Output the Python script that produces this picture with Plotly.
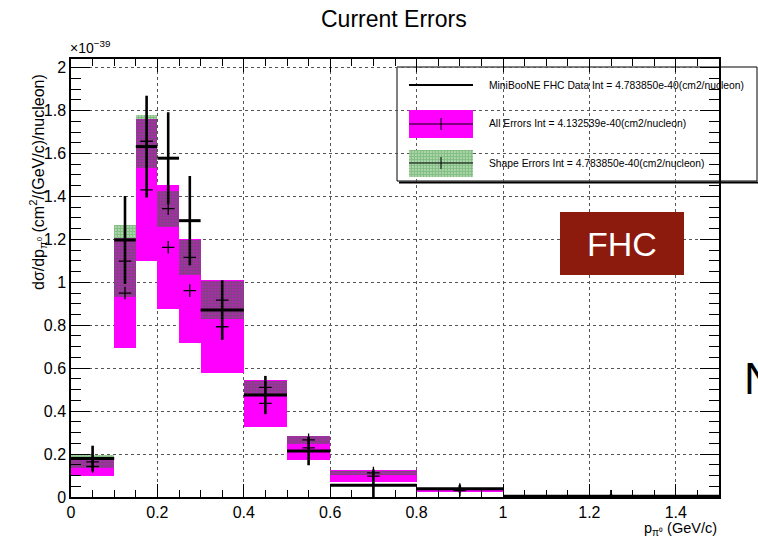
import plotly.graph_objects as go

# ---------------- data (units of 1e-39 cm2/(GeV/c)/nucleon) ----------------
bin_lo = [0.0, 0.10, 0.15, 0.20, 0.25, 0.30, 0.40, 0.50, 0.60, 0.80, 1.00]
bin_hi = [0.10, 0.15, 0.20, 0.25, 0.30, 0.40, 0.50, 0.60, 0.80, 1.00, 1.50]
data_val = [0.179, 1.197, 1.632, 1.578, 1.287, 0.871, 0.475, 0.214, 0.055, 0.038, 0.003]
data_err = [0.060, 0.205, 0.237, 0.214, 0.208, 0.139, 0.089, 0.066, 0.073, 0.017, 0.010]
shape_val = [0.164, 1.099, 1.657, 1.343, 1.116, 0.917, 0.511, 0.266, 0.112, 0.035, 0.003]
shape_err = [0.031, 0.168, 0.123, 0.084, 0.082, 0.090, 0.029, 0.020, 0.010, 0.003, 0.001]
all_val = [0.142, 0.950, 1.430, 1.163, 0.961, 0.793, 0.436, 0.229, 0.097, 0.030, 0.003]
all_err = [0.044, 0.256, 0.331, 0.289, 0.242, 0.217, 0.110, 0.057, 0.027, 0.006, 0.001]

legend_labels = [
    "MiniBooNE FHC Data Int = 4.783850e-40(cm2/nucleon)",
    "All Errors Int = 4.132539e-40(cm2/nucleon)",
    "Shape Errors Int = 4.783850e-40(cm2/nucleon)",
]
x_ticks = [0, 0.2, 0.4, 0.6, 0.8, 1.0, 1.2, 1.4]
x_ticktext = ["0", "0.2", "0.4", "0.6", "0.8", "1", "1.2", "1.4"]
y_ticks = [0, 0.2, 0.4, 0.6, 0.8, 1.0, 1.2, 1.4, 1.6, 1.8, 2.0]
y_ticktext = ["0", "0.2", "0.4", "0.6", "0.8", "1", "1.2", "1.4", "1.6", "1.8", "2"]

# ---------------- derived ----------------
centers = [(a + b) / 2 for a, b in zip(bin_lo, bin_hi)]
widths = [b - a for a, b in zip(bin_lo, bin_hi)]
half_w = [w / 2 for w in widths]

W, H = 758, 537
L, R, T, B = 71, 719, 59, 497
FONT = "Liberation Sans, Arial, Helvetica, sans-serif"
MAGENTA = "#ff00ff"
GREEN = "#0a800a"


def px(xp):
    return (xp - L) / (R - L)


def py(yp):
    return (B - yp) / (B - T)


fig = go.Figure()

# All errors band (magenta)
fig.add_trace(go.Bar(
    x=centers, width=widths,
    base=[v - e for v, e in zip(all_val, all_err)],
    y=[2 * e for e in all_err],
    marker=dict(color=MAGENTA, line=dict(width=0)),
    hoverinfo="skip", showlegend=False,
))
# Shape errors band (green hatch)
fig.add_trace(go.Bar(
    x=centers, width=widths,
    base=[v - e for v, e in zip(shape_val, shape_err)],
    y=[2 * e for e in shape_err],
    marker=dict(color="rgba(0,0,0,0)", line=dict(width=0),
                pattern=dict(shape=".", fgcolor=GREEN, bgcolor="rgba(0,0,0,0)",
                             size=3, solidity=0.8, fillmode="overlay")),
    hoverinfo="skip", showlegend=False,
))
# central value crosses
fig.add_trace(go.Scatter(
    x=centers + centers, y=shape_val + all_val, mode="markers",
    marker=dict(symbol="cross-thin", size=9, line=dict(width=1.3, color="black")),
    hoverinfo="skip", showlegend=False,
))
# data
fig.add_trace(go.Scatter(
    x=centers, y=data_val, mode="markers",
    marker=dict(size=0.1, color="black"),
    error_x=dict(type="data", array=half_w, thickness=3, width=0, color="black"),
    error_y=dict(type="data", array=data_err, thickness=2.6, width=0, color="black"),
    hoverinfo="skip", showlegend=False,
))

# legend green swatch on a pixel-coordinate overlay axis
sx0, sx1, sy0, sy1 = 409, 473, 150, 177
fig.add_trace(go.Scatter(
    x=[sx0, sx1, sx1, sx0, sx0], y=[sy0, sy0, sy1, sy1, sy0],
    xaxis="x2", yaxis="y2", mode="lines", fill="toself",
    line=dict(width=0), fillcolor="rgba(0,0,0,0)",
    fillpattern=dict(shape=".", fgcolor=GREEN, bgcolor="white", size=3, solidity=0.8),
    hoverinfo="skip", showlegend=False,
))

shapes = []
# legend box
shapes.append(dict(type="rect", xref="paper", yref="paper",
                   x0=px(397), x1=px(757), y0=py(181), y1=py(67),
                   fillcolor="white", line=dict(color="black", width=1), layer="between"))
shapes.append(dict(type="line", xref="paper", yref="paper",
                   x0=px(399), x1=px(758), y0=py(182.5), y1=py(182.5),
                   line=dict(color="black", width=2)))
# legend entry 1: black line
shapes.append(dict(type="line", xref="paper", yref="paper",
                   x0=px(409), x1=px(473), y0=py(85), y1=py(85),
                   line=dict(color="black", width=2)))
# legend entry 2: magenta box + line + tick
shapes.append(dict(type="rect", xref="paper", yref="paper",
                   x0=px(409), x1=px(473), y0=py(138), y1=py(110),
                   fillcolor=MAGENTA, line=dict(width=0)))
for yc in (124, 163):
    shapes.append(dict(type="line", xref="paper", yref="paper",
                       x0=px(409), x1=px(473), y0=py(yc), y1=py(yc),
                       line=dict(color="black", width=1)))
    shapes.append(dict(type="line", xref="paper", yref="paper",
                       x0=px(441), x1=px(441), y0=py(yc - 6), y1=py(yc + 6),
                       line=dict(color="black", width=1)))
# FHC box
shapes.append(dict(type="rect", xref="paper", yref="paper",
                   x0=px(560), x1=px(684), y0=py(275), y1=py(212),
                   fillcolor="#8c1a0d", line=dict(width=0)))

annotations = []
for lab, yc in zip(legend_labels, (85, 124, 163)):
    annotations.append(dict(text=lab, xref="paper", yref="paper", x=px(487), y=py(yc),
                            xanchor="left", yanchor="middle", showarrow=False,
                            font=dict(family=FONT, size=10.3, color="black")))
annotations += [
    dict(text="FHC", xref="paper", yref="paper", x=px(622), y=py(244),
         xanchor="center", yanchor="middle", showarrow=False,
         font=dict(family=FONT, size=34, color="white")),
    dict(text="N", xref="paper", yref="paper", x=px(742), y=py(378),
         xanchor="left", yanchor="middle", showarrow=False,
         font=dict(family=FONT, size=44, color="black")),
    dict(text="Current Errors", xref="paper", yref="paper", x=px(394), y=py(19),
         xanchor="center", yanchor="middle", showarrow=False,
         font=dict(family=FONT, size=23, color="black")),
    dict(text="×10<sup>−39</sup>", xref="paper", yref="paper", x=px(68), y=py(47),
         xanchor="left", yanchor="middle", showarrow=False,
         font=dict(family=FONT, size=14, color="black")),
    dict(text="p<sub>π⁰</sub> (GeV/c)", xref="paper", yref="paper", x=px(719), y=py(528.5),
         xanchor="right", yanchor="middle", showarrow=False,
         font=dict(family=FONT, size=14.5, color="black")),
    dict(text="dσ/dp<sub>π<sup>0</sup></sub> (cm<sup>2</sup>/(GeV/c)/nucleon)",
         xref="paper", yref="paper", x=px(38), y=py(182), textangle=-90,
         xanchor="center", yanchor="middle", showarrow=False,
         font=dict(family=FONT, size=16, color="black")),
]

axis_common = dict(
    showline=True, linecolor="black", linewidth=1.5, mirror="ticks",
    ticks="inside", tickcolor="black", tickwidth=1,
    showgrid=True, gridcolor="#555555", gridwidth=1, griddash="dot",
    zeroline=False, tickfont=dict(family=FONT, size=16, color="black"),
)

fig.update_layout(
    width=W, height=H,
    margin=dict(l=L, r=W - R, t=T, b=H - B, pad=0),
    paper_bgcolor="white", plot_bgcolor="white",
    barmode="overlay", bargap=0,
    showlegend=False,
    shapes=shapes, annotations=annotations,
    xaxis=dict(range=[0, 1.5], tickmode="array", tickvals=x_ticks, ticktext=x_ticktext,
               ticklen=13, minor=dict(dtick=0.05, ticklen=7, ticks="inside", tickcolor="black",
                                      showgrid=False),
               **axis_common),
    yaxis=dict(range=[0, 2.04], tickmode="array", tickvals=y_ticks, ticktext=y_ticktext,
               ticklen=19, minor=dict(dtick=0.05, ticklen=10, ticks="inside", tickcolor="black",
                                      showgrid=False),
               **axis_common),
    xaxis2=dict(range=[L, R], overlaying="x", visible=False, fixedrange=True),
    yaxis2=dict(range=[B, T], overlaying="y", visible=False, fixedrange=True),
)

fig.write_html("out.html")
